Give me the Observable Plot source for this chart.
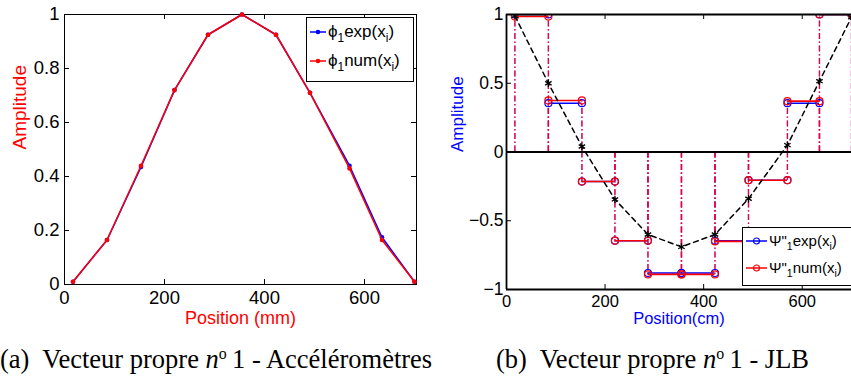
<!DOCTYPE html>
<html><head><meta charset="utf-8">
<script src="https://cdn.jsdelivr.net/npm/d3@7"></script>
<script src="https://cdn.jsdelivr.net/npm/@observablehq/plot@0.6"></script>
<style>
html,body{margin:0;padding:0;background:#fff;}
#wrap{position:relative;width:851px;height:378px;overflow:hidden;font-family:"Liberation Sans",Arial,sans-serif;}
.panel{position:absolute;top:0;}
.legend{position:absolute;background:#fff;border:1.5px solid #000;box-sizing:border-box;overflow:hidden;}
.row{position:absolute;left:0;display:flex;align-items:center;white-space:nowrap;}
.row svg{display:block;}
.row sub{font-size:0.7em;vertical-align:-0.4em;line-height:0;}
.cap{position:absolute;font-family:"Liberation Serif","Times New Roman",serif;font-size:26.5px;line-height:27px;white-space:nowrap;color:#000;}
.cap sup{font-size:0.6em;vertical-align:0.55em;line-height:0;}
</style></head><body><div id="wrap"></div>
<script>
// ---- data ----
const positions = [17, 85, 153, 220, 287, 355, 423, 491, 570, 635, 700];
const phiExp = [0.01, 0.165, 0.435, 0.72, 0.925, 1.0, 0.925, 0.71, 0.44, 0.175, 0.01];
const phiNum = [0.01, 0.165, 0.44, 0.72, 0.925, 1.0, 0.925, 0.71, 0.43, 0.165, 0.01];
// piecewise-constant values, one per interval between consecutive positions
const psiExp = [1.0, 0.355, -0.215, -0.645, -0.88, -0.88, -0.645, -0.205, 0.355, 1.0];
const psiNum = [0.985, 0.375, -0.215, -0.645, -0.89, -0.89, -0.65, -0.205, 0.37, 1.0];
const psiCurve = [0.99, 0.50, 0.04, -0.345, -0.60, -0.69, -0.60, -0.34, 0.05, 0.515, 0.98];
const xTicks = [0, 200, 400, 600];
const yTicksA = [0, 0.2, 0.4, 0.6, 0.8, 1];
const yTicksB = [-1, -0.5, 0, 0.5, 1];
const xLabelA = "Position (mm)", yLabelA = "Amplitude";
const xLabelB = "Position(cm)", yLabelB = "Amplitude";

const wrap = document.getElementById("wrap");
const fmt = d3.format("~g");

// ---- panel (a) ----
const A = {w: 430, h: 330, ml: 64, mr: 14, mt: 14, mb: 46};
const pwA = A.w - A.ml - A.mr, phA = A.h - A.mt - A.mb;
const expA = positions.map((x, i) => ({x, y: phiExp[i]}));
const numA = positions.map((x, i) => ({x, y: phiNum[i]}));
const plotA = Plot.plot({
  width: A.w, height: A.h, marginLeft: A.ml, marginRight: A.mr, marginTop: A.mt, marginBottom: A.mb,
  style: {fontFamily: "Liberation Sans, Arial, sans-serif", fontSize: "18.5px", background: "transparent", color: "black"},
  x: {domain: [0, 704]}, y: {domain: [0, 1]},
  marks: [
    Plot.frame({stroke: "black", strokeWidth: 1}),
    Plot.tickX(xTicks, {x: d => d, insetTop: phA - 5, stroke: "black"}),
    Plot.tickX(xTicks, {x: d => d, insetBottom: phA - 5, stroke: "black"}),
    Plot.tickY(yTicksA, {y: d => d, insetRight: pwA - 5, stroke: "black"}),
    Plot.tickY(yTicksA, {y: d => d, insetLeft: pwA - 5, stroke: "black"}),
    Plot.axisX({ticks: xTicks, tickSize: 0, tickPadding: 6, tickFormat: fmt, label: null, fill: "black"}),
    Plot.axisY({ticks: yTicksA, tickSize: 0, tickPadding: 5, tickFormat: fmt, label: null, fill: "black", fontSize: 18.5}),
    Plot.line(expA, {x: "x", y: "y", stroke: "#0000ff", strokeWidth: 1.5}),
    Plot.dot(expA, {x: "x", y: "y", r: 2.3, fill: "#0000ff"}),
    Plot.line(numA, {x: "x", y: "y", stroke: "#ff0000", strokeWidth: 1.5}),
    Plot.dot(numA, {x: "x", y: "y", r: 2.3, fill: "#ff0000"}),
    Plot.text([xLabelA], {text: d => d, frameAnchor: "bottom", dy: 39, fill: "#ff0000", fontSize: 18}),
    Plot.text([yLabelA], {text: d => d, frameAnchor: "left", dx: -45, rotate: -90, fill: "#ff0000", fontSize: 19})
  ]
});
plotA.classList.add("panel");
plotA.style.left = "0px";
wrap.appendChild(plotA);

// ---- panel (b) ----
const B = {w: 421, h: 330, ml: 76, mr: 0, mt: 14, mb: 41};
const pwB = B.w - B.ml - B.mr, phB = B.h - B.mt - B.mb;
function segs(vals) { return vals.map((y, i) => ({x1: positions[i], x2: positions[i + 1], y})); }
function ends(vals) { return vals.flatMap((y, i) => [{x: positions[i], y}, {x: positions[i + 1], y}]); }
const segE = segs(psiExp), segN = segs(psiNum), endE = ends(psiExp), endN = ends(psiNum);
const curve = positions.map((x, i) => ({x, y: psiCurve[i]}));
const dashDot = "6,2.5,1.5,2.5";
const plotB = Plot.plot({
  width: B.w, height: B.h, marginLeft: B.ml, marginRight: B.mr, marginTop: B.mt, marginBottom: B.mb,
  style: {fontFamily: "Liberation Sans, Arial, sans-serif", fontSize: "16.5px", background: "transparent", color: "black"},
  x: {domain: [0, 700]}, y: {domain: [-1, 1]},
  marks: [
    Plot.ruleX(endE, {x: "x", y1: d => 0, y2: "y", stroke: "#8000c0", strokeWidth: 1.3, strokeDasharray: dashDot, strokeOpacity: 0.6}),
    Plot.ruleX(endN, {x: "x", y1: d => 0, y2: "y", stroke: "#e8003c", strokeWidth: 1.3, strokeDasharray: dashDot, strokeOpacity: 0.95}),
    Plot.ruleY(segE, {x1: "x1", x2: "x2", y: "y", stroke: "#0000ff", strokeWidth: 1.6, clip: true}),
    Plot.dot(endE, {x: "x", y: "y", r: 3.5, stroke: "#0000ff", strokeWidth: 1.2, fill: "none", clip: true}),
    Plot.ruleY(segN, {x1: "x1", x2: "x2", y: "y", stroke: "#ff0000", strokeWidth: 1.6, clip: true}),
    Plot.dot(endN, {x: "x", y: "y", r: 3.5, stroke: "#ff0000", strokeWidth: 1.2, fill: "none", clip: true}),
    Plot.line(curve, {x: "x", y: "y", stroke: "black", strokeWidth: 1.5, strokeDasharray: "5,4", clip: true}),
    Plot.dot(curve, {x: "x", y: "y", r: 3.5, symbol: "asterisk", stroke: "black", strokeWidth: 1.3, clip: true}),
    Plot.ruleY([0], {stroke: "black", strokeWidth: 2.2}),
    Plot.ruleY([-1, 1], {stroke: "black", strokeWidth: 1.8}),
    Plot.ruleX([0], {stroke: "black", strokeWidth: 1.8}),
    Plot.tickX(xTicks, {x: d => d, insetTop: phB - 5, stroke: "black"}),
    Plot.tickX(xTicks, {x: d => d, insetBottom: phB - 5, stroke: "black"}),
    Plot.tickY(yTicksB, {y: d => d, insetRight: pwB - 5, stroke: "black"}),
    Plot.axisX({ticks: xTicks, tickSize: 0, tickPadding: 5.5, tickFormat: fmt, label: null, fill: "black"}),
    Plot.axisY({ticks: yTicksB, tickSize: 0, tickPadding: 3, tickFormat: fmt, label: null, fill: "black", fontSize: 17.5}),
    Plot.text([xLabelB], {text: d => d, frameAnchor: "bottom", dy: 34, fill: "#0000ff", fontSize: 16.5}),
    Plot.text([yLabelB], {text: d => d, frameAnchor: "left", dx: -49, rotate: -90, fill: "#0000ff", fontSize: 17})
  ]
});
plotB.classList.add("panel");
plotB.style.left = "430px";
wrap.appendChild(plotB);

// ---- legends ----
function legend(left, top, width, height, items, fontSize, lineW, marker) {
  const box = document.createElement("div");
  box.className = "legend";
  Object.assign(box.style, {left: left + "px", top: top + "px", width: width + "px", height: height + "px", fontSize: fontSize + "px"});
  items.forEach(it => {
    const row = document.createElement("div");
    row.className = "row";
    row.style.top = it.top + "px";
    row.style.left = "3px";
    const mk = marker === "dot"
      ? `<circle cx="${lineW / 2}" cy="6" r="2.3" fill="${it.color}"/>`
      : `<circle cx="${lineW / 2}" cy="6" r="3" fill="none" stroke="${it.color}" stroke-width="1.2"/>`;
    row.innerHTML = `<svg width="${lineW}" height="12"><line x1="0" x2="${lineW}" y1="6" y2="6" stroke="${it.color}" stroke-width="1.5"/>${mk}</svg><span style="margin-left:2px">${it.html}</span>`;
    box.appendChild(row);
  });
  wrap.appendChild(box);
}
legend(306, 17, 108, 65, [
  {color: "#0000ff", html: "ϕ<sub>1</sub>exp(x<sub>i</sub>)", top: 4},
  {color: "#ff0000", html: "ϕ<sub>1</sub>num(x<sub>i</sub>)", top: 33}
], 17, 16, "dot");
legend(742, 227, 120, 59, [
  {color: "#0000ff", html: "Ψ\"<sub>1</sub>exp(x<sub>i</sub>)", top: 4},
  {color: "#ff0000", html: "Ψ\"<sub>1</sub>num(x<sub>i</sub>)", top: 31}
], 15, 21, "circle");

// ---- captions ----
const capA = document.createElement("div");
capA.className = "cap"; capA.style.left = "0px"; capA.style.top = "346px";
capA.innerHTML = "(a)&nbsp; Vecteur propre <i>n</i><sup>o</sup>&#8201;1 - Accéléromètres";
wrap.appendChild(capA);
const capB = document.createElement("div");
capB.className = "cap"; capB.style.left = "496px"; capB.style.top = "346px";
capB.innerHTML = "(b)&nbsp; Vecteur propre <i>n</i><sup>o</sup>&#8201;1 - JLB";
wrap.appendChild(capB);
</script>
</body></html>
